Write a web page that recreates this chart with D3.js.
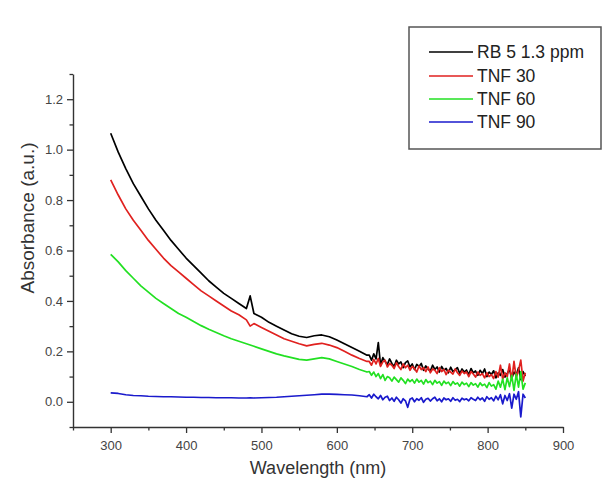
<!DOCTYPE html>
<html>
<head>
<meta charset="utf-8">
<script src="https://cdn.jsdelivr.net/npm/d3@7"></script>
<style>
  html, body { margin: 0; padding: 0; background: #fff; }
  svg { display: block; }
  text { font-family: "Liberation Sans", Arial, sans-serif; }
</style>
</head>
<body>
<svg id="chart" width="613" height="480"></svg>
<script>
// ---- data ----
const seriesNames = ["RB 5 1.3 ppm", "TNF 30", "TNF 60", "TNF 90"];
const seriesColors = ["#000000", "#e0211f", "#22e022", "#1a1acc"];

const wavelengths = [
  300,310,320,330,340,350,360,370,380,390,400,410,420,430,440,450,460,470,480,485,
  490,500,510,520,530,540,550,560,570,580,590,600,610,620,630,640,
  643,646,649,652,655,658,661,664,667,670,673,676,679,682,685,688,691,694,697,700,
  703,706,709,712,715,718,721,724,727,730,733,736,739,742,745,748,751,754,757,760,
  763,766,769,772,775,778,781,784,787,790,793,796,799,802,805,808,811,814,817,820,
  823,826,829,832,835,838,841,844,847,850
];

const rb5 = [
  1.065,0.99,0.925,0.865,0.815,0.765,0.72,0.68,0.64,0.605,0.57,0.54,0.51,0.48,0.455,0.43,0.41,0.39,0.37,0.42,
  0.35,0.335,0.315,0.30,0.285,0.27,0.26,0.255,0.262,0.265,0.258,0.245,0.23,0.215,0.20,0.185,
  0.185,0.165,0.19,0.17,0.235,0.145,0.175,0.16,0.148,0.17,0.152,0.14,0.165,0.15,0.158,0.135,0.155,0.162,0.138,0.15,
  0.128,0.148,0.14,0.152,0.125,0.142,0.13,0.122,0.145,0.128,0.138,0.118,0.14,0.125,0.132,0.115,0.137,0.12,0.128,0.135,
  0.112,0.13,0.118,0.126,0.108,0.132,0.115,0.122,0.105,0.125,0.112,0.13,0.1,0.118,0.108,0.123,0.095,0.115,0.105,0.128,
  0.098,0.112,0.13,0.092,0.118,0.105,0.135,0.088,0.12,0.102
];

const tnf30 = [
  0.88,0.82,0.765,0.72,0.68,0.64,0.605,0.57,0.54,0.515,0.49,0.465,0.44,0.42,0.40,0.38,0.36,0.345,0.325,0.30,
  0.31,0.295,0.28,0.265,0.25,0.24,0.23,0.222,0.228,0.232,0.225,0.215,0.20,0.185,0.172,0.16,
  0.16,0.145,0.168,0.15,0.172,0.14,0.158,0.165,0.138,0.152,0.145,0.132,0.155,0.14,0.128,0.15,0.135,0.145,0.125,0.14,
  0.132,0.118,0.142,0.128,0.135,0.12,0.138,0.115,0.13,0.125,0.112,0.135,0.12,0.128,0.108,0.125,0.118,0.11,0.13,0.115,
  0.105,0.122,0.112,0.118,0.1,0.12,0.11,0.098,0.118,0.105,0.112,0.095,0.115,0.1,0.108,0.092,0.12,0.098,0.145,0.09,
  0.115,0.1,0.15,0.085,0.16,0.095,0.125,0.165,0.082,0.115
];

const tnf60 = [
  0.585,0.555,0.52,0.49,0.46,0.435,0.41,0.39,0.37,0.35,0.335,0.318,0.302,0.288,0.275,0.262,0.25,0.24,0.23,0.225,
  0.22,0.21,0.20,0.19,0.182,0.175,0.168,0.165,0.17,0.175,0.17,0.16,0.15,0.14,0.128,0.118,
  0.12,0.105,0.118,0.1,0.112,0.092,0.108,0.085,0.1,0.095,0.082,0.098,0.088,0.078,0.095,0.085,0.072,0.09,0.08,0.088,
  0.074,0.09,0.078,0.085,0.07,0.088,0.076,0.082,0.068,0.085,0.074,0.08,0.065,0.082,0.072,0.078,0.064,0.08,0.07,0.075,
  0.062,0.078,0.068,0.074,0.06,0.076,0.066,0.072,0.058,0.075,0.064,0.07,0.056,0.076,0.062,0.068,0.05,0.082,0.058,0.09,
  0.048,0.095,0.06,0.105,0.045,0.11,0.058,0.12,0.05,0.075
];

const tnf90 = [
  0.035,0.033,0.028,0.025,0.024,0.022,0.021,0.02,0.02,0.019,0.018,0.018,0.017,0.017,0.016,0.016,0.016,0.015,0.015,0.016,
  0.015,0.016,0.017,0.018,0.02,0.022,0.024,0.026,0.028,0.03,0.03,0.029,0.028,0.027,0.024,0.02,
  0.028,0.015,0.03,0.02,0.012,0.025,0.008,0.018,0.022,0.005,0.015,0.002,0.018,0.008,-0.005,0.012,0.004,-0.022,0.01,0.015,
  0.0,0.012,0.006,0.016,-0.002,0.01,0.014,0.003,0.012,0.018,0.004,0.012,0.0,0.015,0.008,0.012,0.002,0.016,0.006,0.01,
  0.001,0.014,0.008,0.012,0.004,0.016,0.01,0.005,0.018,0.008,0.015,0.002,0.02,0.01,0.016,0.004,0.022,0.008,0.028,-0.008,
  0.025,0.005,0.032,-0.025,0.03,0.01,0.04,-0.06,0.03,0.015
];

const xMajorTicks = [300, 400, 500, 600, 700, 800, 900];
const xMinorTicks = [250, 350, 450, 550, 650, 750, 850];
const yMajorTicks = [0.0, 0.2, 0.4, 0.6, 0.8, 1.0, 1.2];
const yMinorTicks = [-0.1, 0.1, 0.3, 0.5, 0.7, 0.9, 1.1, 1.3];

// ---- layout ----
const svg = d3.select("#chart");
const plotLeft = 73, plotRight = 563, plotTop = 74, plotBottom = 427;

const x = d3.scaleLinear().domain([250, 900]).range([plotLeft, plotRight]);
const y = d3.scaleLinear().domain([-0.1, 1.3]).range([plotBottom, plotTop]);

const axisColor = "#333";
const labelColor = "#444";

// x axis
const gx = svg.append("g").attr("transform", `translate(0,${plotBottom})`);
gx.call(d3.axisBottom(x).tickValues(xMajorTicks).tickSize(6).tickSizeOuter(0).tickFormat(d3.format("d")));
gx.append("g").call(d3.axisBottom(x).tickValues(xMinorTicks).tickSize(3.5).tickSizeOuter(0).tickFormat(""))
  .select(".domain").remove();
gx.selectAll("path.domain").attr("stroke", axisColor).attr("stroke-width", 1.4);
gx.selectAll("line").attr("stroke", axisColor).attr("stroke-width", 1.3);
gx.selectAll("text").attr("fill", labelColor).style("font-size", "13px").attr("dy", "1.05em");

// y axis
const gy = svg.append("g").attr("transform", `translate(${plotLeft},0)`);
gy.call(d3.axisLeft(y).tickValues(yMajorTicks).tickSize(6).tickSizeOuter(0).tickFormat(d3.format(".1f")));
gy.append("g").call(d3.axisLeft(y).tickValues(yMinorTicks).tickSize(3.5).tickSizeOuter(0).tickFormat(""))
  .select(".domain").remove();
gy.selectAll("path.domain").attr("stroke", axisColor).attr("stroke-width", 1.4);
gy.selectAll("line").attr("stroke", axisColor).attr("stroke-width", 1.3);
gy.selectAll("text").attr("fill", labelColor).style("font-size", "13px").attr("x", -10);

// axis titles
svg.append("text")
  .attr("x", (plotLeft + plotRight) / 2).attr("y", 474)
  .attr("text-anchor", "middle")
  .attr("fill", "#333")
  .style("font-size", "18px")
  .text("Wavelength (nm)");

svg.append("text")
  .attr("transform", `translate(34,218) rotate(-90)`)
  .attr("text-anchor", "middle")
  .attr("fill", "#333")
  .style("font-size", "19px")
  .text("Absorbance (a.u.)");

// lines
const seriesValues = [rb5, tnf30, tnf60, tnf90];
const line = d3.line().x(d => x(d[0])).y(d => y(d[1]));
seriesValues.forEach((vals, i) => {
  const pts = wavelengths.map((w, j) => [w, vals[j]]).filter(p => p[1] !== undefined);
  svg.append("path")
    .datum(pts)
    .attr("fill", "none")
    .attr("stroke", seriesColors[i])
    .attr("stroke-width", 1.7)
    .attr("stroke-linejoin", "round")
    .attr("d", line);
});

// legend
const lg = svg.append("g");
lg.append("rect")
  .attr("x", 409).attr("y", 27).attr("width", 192).attr("height", 122)
  .attr("fill", "#fff").attr("stroke", "#555").attr("stroke-width", 1.5);
const rowY = [52, 76, 99, 122];
seriesNames.forEach((name, i) => {
  lg.append("line")
    .attr("x1", 429).attr("x2", 473)
    .attr("y1", rowY[i]).attr("y2", rowY[i])
    .attr("stroke", seriesColors[i]).attr("stroke-width", 1.7);
  lg.append("text")
    .attr("x", 477).attr("y", rowY[i])
    .attr("dy", "0.36em")
    .attr("fill", "#222")
    .style("font-size", "17.5px")
    .text(name);
});
</script>
</body>
</html>
